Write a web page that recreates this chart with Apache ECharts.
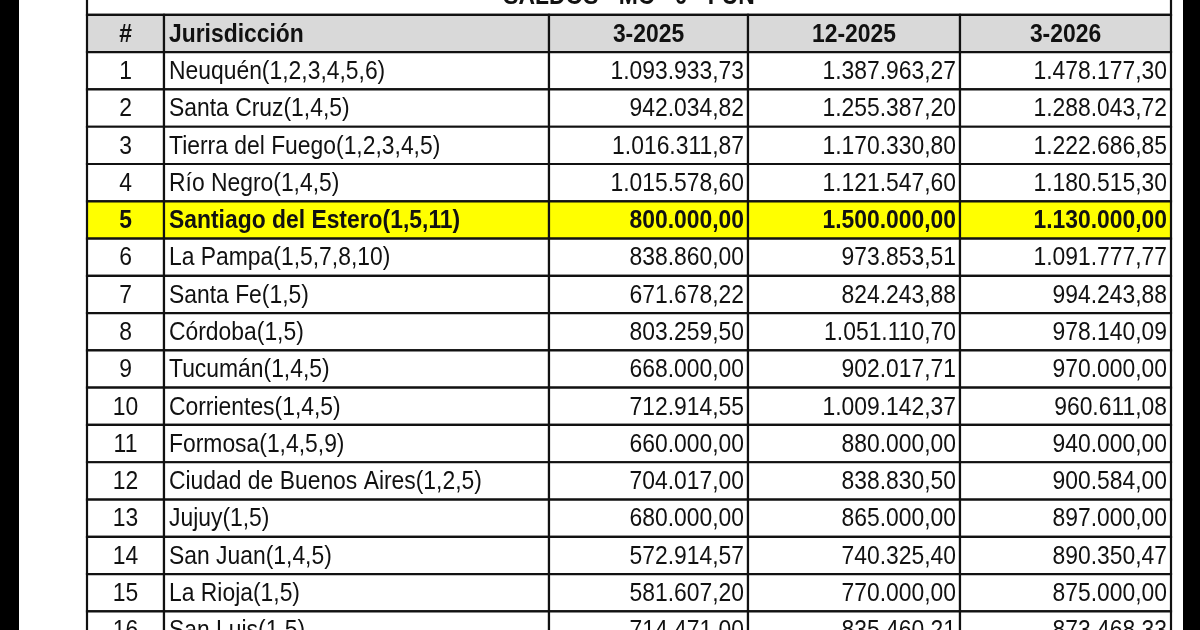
<!DOCTYPE html>
<html><head><meta charset="UTF-8">
<script src="https://cdn.jsdelivr.net/npm/echarts@6/dist/echarts.min.js"></script>
<style>html,body{margin:0;background:#fff}#c{width:1200px;height:630px}</style>
</head><body><div id="c"></div>
<script>
var title = 'SALDOS - MC - 0 - FUN';
var headers = ['#', 'Jurisdicción', '3-2025', '12-2025', '3-2026'];
var names = ['Neuquén(1,2,3,4,5,6)', 'Santa Cruz(1,4,5)', 'Tierra del Fuego(1,2,3,4,5)', 'Río Negro(1,4,5)',
  'Santiago del Estero(1,5,11)', 'La Pampa(1,5,7,8,10)', 'Santa Fe(1,5)', 'Córdoba(1,5)', 'Tucumán(1,4,5)',
  'Corrientes(1,4,5)', 'Formosa(1,4,5,9)', 'Ciudad de Buenos Aires(1,2,5)', 'Jujuy(1,5)', 'San Juan(1,4,5)',
  'La Rioja(1,5)', 'San Luis(1,5)'];
var mar2025 = [1093933.73, 942034.82, 1016311.87, 1015578.60, 800000.00, 838860.00, 671678.22, 803259.50,
  668000.00, 712914.55, 660000.00, 704017.00, 680000.00, 572914.57, 581607.20, 714471.00];
var dic2025 = [1387963.27, 1255387.20, 1170330.80, 1121547.60, 1500000.00, 973853.51, 824243.88, 1051110.70,
  902017.71, 1009142.37, 880000.00, 838830.50, 865000.00, 740325.40, 770000.00, 835460.21];
var mar2026 = [1478177.30, 1288043.72, 1222686.85, 1180515.30, 1130000.00, 1091777.77, 994243.88, 978140.09,
  970000.00, 960611.08, 940000.00, 900584.00, 897000.00, 890350.47, 875000.00, 873468.33];
var highlightRow = 5;
// column boundaries in table units
var colEdges = [0, 77, 462, 661, 873, 1084];

function fmt(v) {
  return v.toLocaleString('de-DE', { minimumFractionDigits: 2, maximumFractionDigits: 2 });
}

// cells: [col, row, text, kind]
var cells = [];
cells.push([-1, -1, title, 'title']);
headers.forEach(function (h, c) { cells.push([c, 0, h, 'head']); });
names.forEach(function (n, i) {
  var r = i + 1;
  var k = r === highlightRow ? 'hl' : 'body';
  cells.push([0, r, String(r), k]);
  cells.push([1, r, n, k]);
  cells.push([2, r, fmt(mar2025[i]), k]);
  cells.push([3, r, fmt(dic2025[i]), k]);
  cells.push([4, r, fmt(mar2026[i]), k]);
});

var FONT = '"Liberation Sans", Arial, sans-serif';

function renderItem(params, api) {
  var c = api.value(0), r = api.value(1), txt = cells[params.dataIndex][2], kind = cells[params.dataIndex][3];
  var x0 = c < 0 ? colEdges[0] : colEdges[c], x1 = c < 0 ? colEdges[5] : colEdges[c + 1];
  var p0 = api.coord([x0, r]), p1 = api.coord([x1, r + 1]);
  var w = p1[0] - p0[0], h = p1[1] - p0[1];
  var fill = kind === 'head' ? '#d9d9d9' : kind === 'hl' ? '#ffff00' : '#ffffff';
  var bold = kind === 'head' || kind === 'hl' || kind === 'title';
  var align, tx;
  if (kind === 'title' || c === 0 || (kind === 'head' && c >= 2)) { align = 'center'; tx = p0[0] + w / 2; }
  else if (c === 1) { align = 'left'; tx = p0[0] + 5; }
  else { align = 'right'; tx = p1[0] - 4; }
  var ty = p0[1] + h / 2 + 1;
  return {
    type: 'group',
    children: [
      { type: 'rect', shape: { x: p0[0], y: p0[1], width: w, height: h },
        style: { fill: fill, stroke: '#111', lineWidth: 2.2 } },
      { type: 'text', x: tx, y: ty, scaleX: 0.88,
        style: { text: txt, x: 0, y: 0, align: align, verticalAlign: 'middle',
          font: (bold ? 'bold ' : '') + '26px ' + FONT, fill: '#111' } }
    ]
  };
}

var chart = echarts.init(document.getElementById('c'));
chart.setOption({
  animation: false,
  graphic: [
    { type: 'rect', z: 100, shape: { x: 0, y: 0, width: 19, height: 630 }, style: { fill: '#000' } },
    { type: 'rect', z: 100, shape: { x: 1183, y: 0, width: 17, height: 630 }, style: { fill: '#000' } }
  ],
  grid: { left: 87, top: 0, width: 1084, height: 16.9 * 37.6, show: false },
  xAxis: { type: 'value', min: 0, max: 1084, show: false },
  yAxis: { type: 'value', min: -0.4, max: 16.5, inverse: true, show: false },
  series: [{
    type: 'custom', clip: false, renderItem: renderItem,
    data: cells.map(function (d) { return [d[0], d[1]]; })
  }]
});
</script></body></html>
